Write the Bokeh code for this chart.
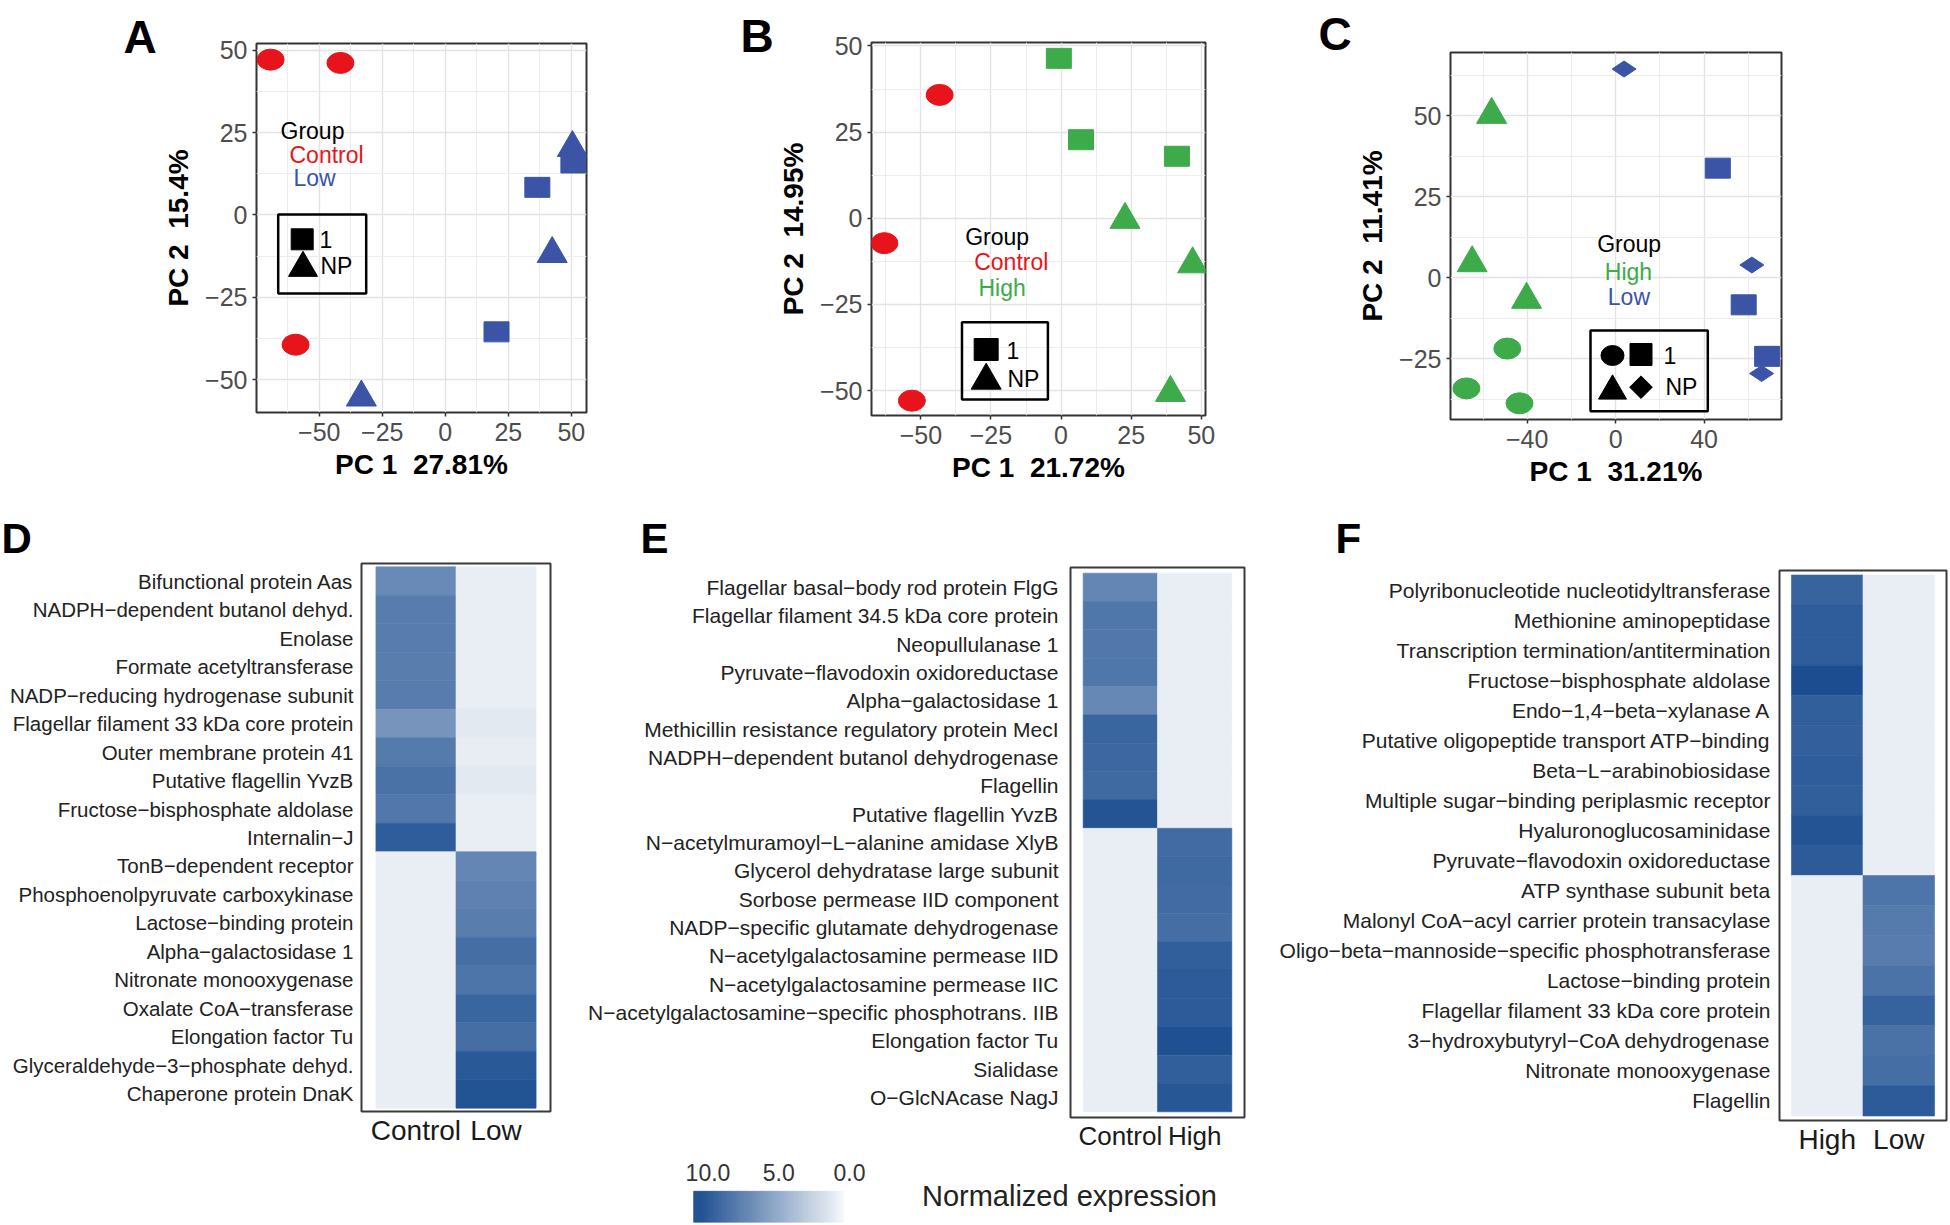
import numpy as np
from bokeh.plotting import figure
from bokeh.layouts import column, row
from bokeh.models import (Range1d, FactorRange, FixedTicker, Label, BoxAnnotation,
                          LinearColorMapper, ColumnDataSource, CustomJSTickFormatter)
from bokeh.transform import transform
from bokeh.embed import file_html
from bokeh.resources import INLINE

FONT = "Liberation Sans"
NB2 = "\u00a0\u00a0"

# ======================= DATA =======================
GROUP_COLORS = {"Control": "#E8141B", "Low": "#3B54A5", "High": "#3DAB4A"}

# Panel A : Control vs Low
A_pc1 = [-69.3, -41.6, -59.4, 36.5, 20.3, 50.8, 50.4, 42.4, -33.3]
A_pc2 = [47.2, 46.2, -39.4, 8.4, -35.5, 15.8, 20.4, -11.8, -55.4]
A_group = ["Control", "Control", "Control", "Low", "Low", "Low", "Low", "Low", "Low"]
A_shape = ["circle", "circle", "circle", "square", "square", "square", "triangle", "triangle", "triangle"]
A_xlabel = "PC 1" + NB2 + "27.81%"
A_ylabel = "PC 2" + NB2 + "15.4%"
A_xticks = [-50, -25, 0, 25, 50]
A_xminor = [-62.5, -37.5, -12.5, 12.5, 37.5]
A_yticks = [-50, -25, 0, 25, 50]
A_yminor = [-37.5, -12.5, 12.5, 37.5]
A_xrange = (-74.9, 56.0)
A_yrange = (-60.0, 52.1)

# Panel B : Control vs High
B_pc1 = [-43.3, -63.0, -53.2, -0.8, 7.1, 41.3, 22.8, 46.9, 39.0]
B_pc2 = [35.8, -7.2, -52.9, 46.4, 22.8, 18.0, -0.4, -13.3, -50.6]
B_group = ["Control", "Control", "Control", "High", "High", "High", "High", "High", "High"]
B_shape = ["circle", "circle", "circle", "square", "square", "square", "triangle", "triangle", "triangle"]
B_xlabel = "PC 1" + NB2 + "21.72%"
B_ylabel = "PC 2" + NB2 + "14.95%"
B_xticks = [-50, -25, 0, 25, 50]
B_xminor = [-62.5, -37.5, -12.5, 12.5, 37.5]
B_yticks = [-50, -25, 0, 25, 50]
B_yminor = [-37.5, -12.5, 12.5, 37.5]
B_xrange = (-67.6, 51.5)
B_yrange = (-57.2, 51.0)

# Panel C : High vs Low
C_pc1 = [-49.0, -67.5, -43.5, -56.1, -64.9, -40.3, 46.2, 57.9, 68.5, 3.8, 61.6, 66.0]
C_pc2 = [-21.9, -34.2, -38.8, 50.3, 4.5, -6.8, 33.8, -8.4, -24.3, 64.4, 3.9, -29.6]
C_group = ["High"] * 6 + ["Low"] * 6
C_shape = ["circle"] * 3 + ["triangle"] * 3 + ["square"] * 3 + ["diamond"] * 3
C_xlabel = "PC 1" + NB2 + "31.21%"
C_ylabel = "PC 2" + NB2 + "11.41%"
C_xticks = [-40, 0, 40]
C_xminor = [-60, -20, 20, 60]
C_yticks = [-25, 0, 25, 50]
C_yminor = [-37.5, -12.5, 12.5, 37.5, 62.5]
C_xrange = (-74.7, 75.0)
C_yrange = (-43.8, 69.5)

# Heatmap D : Control vs Low
D_genes = ["Bifunctional protein Aas", "NADPH\u2212dependent butanol dehyd.", "Enolase",
           "Formate acetyltransferase", "NADP\u2212reducing hydrogenase subunit",
           "Flagellar filament 33 kDa core protein", "Outer membrane protein 41",
           "Putative flagellin YvzB", "Fructose\u2212bisphosphate aldolase", "Internalin\u2212J",
           "TonB\u2212dependent receptor", "Phosphoenolpyruvate carboxykinase",
           "Lactose\u2212binding protein", "Alpha\u2212galactosidase 1", "Nitronate monooxygenase",
           "Oxalate CoA\u2212transferase", "Elongation factor Tu",
           "Glyceraldehyde\u22123\u2212phosphate dehyd.", "Chaperone protein DnaK"]
D_cols = ["Control", "Low"]
D_control = [6.8, 7.6, 7.6, 7.5, 7.6, 6.2, 7.7, 8.2, 7.8, 9.4,
             1.0, 1.0, 1.0, 1.0, 1.0, 1.0, 1.0, 1.0, 1.0]
D_low = [1.0, 1.0, 1.0, 1.0, 1.0, 1.3, 1.1, 1.3, 1.0, 1.0,
         7.0, 7.3, 7.5, 8.4, 8.0, 8.9, 8.4, 9.6, 10.0]

# Heatmap E : Control vs High
E_genes = ["Flagellar basal\u2212body rod protein FlgG", "Flagellar filament 34.5 kDa core protein",
           "Neopullulanase 1", "Pyruvate\u2212flavodoxin oxidoreductase", "Alpha\u2212galactosidase 1",
           "Methicillin resistance regulatory protein MecI",
           "NADPH\u2212dependent butanol dehydrogenase", "Flagellin", "Putative flagellin YvzB",
           "N\u2212acetylmuramoyl\u2212L\u2212alanine amidase XlyB",
           "Glycerol dehydratase large subunit", "Sorbose permease IID component",
           "NADP\u2212specific glutamate dehydrogenase", "N\u2212acetylgalactosamine permease IID",
           "N\u2212acetylgalactosamine permease IIC",
           "N\u2212acetylgalactosamine\u2212specific phosphotrans. IIB",
           "Elongation factor Tu", "Sialidase", "O\u2212GlcNAcase NagJ"]
E_cols = ["Control", "High"]
E_control = [7.0, 7.9, 7.8, 7.9, 6.9, 8.9, 8.8, 8.7, 9.9,
             1.0, 1.0, 1.0, 1.0, 1.0, 1.0, 1.0, 1.0, 1.0, 1.0]
E_high = [1.0, 1.0, 1.0, 1.0, 1.0, 1.0, 1.0, 1.0, 1.0,
          8.6, 8.7, 8.6, 8.4, 9.3, 9.5, 9.5, 10.1, 9.3, 9.7]

# Heatmap F : High vs Low
F_genes = ["Polyribonucleotide nucleotidyltransferase", "Methionine aminopeptidase",
           "Transcription termination/antitermination", "Fructose\u2212bisphosphate aldolase",
           "Endo\u22121,4\u2212beta\u2212xylanase A", "Putative oligopeptide transport ATP\u2212binding",
           "Beta\u2212L\u2212arabinobiosidase", "Multiple sugar\u2212binding periplasmic receptor",
           "Hyaluronoglucosaminidase", "Pyruvate\u2212flavodoxin oxidoreductase",
           "ATP synthase subunit beta", "Malonyl CoA\u2212acyl carrier protein transacylase",
           "Oligo\u2212beta\u2212mannoside\u2212specific phosphotransferase", "Lactose\u2212binding protein",
           "Flagellar filament 33 kDa core protein", "3\u2212hydroxybutyryl\u2212CoA dehydrogenase",
           "Nitronate monooxygenase", "Flagellin"]
F_cols = ["High", "Low"]
F_high = [9.0, 9.4, 9.4, 10.3, 9.3, 9.2, 9.4, 9.3, 9.9, 9.5,
          1.0, 1.0, 1.0, 1.0, 1.0, 1.0, 1.0, 1.0]
F_low = [1.0, 1.0, 1.0, 1.0, 1.0, 1.0, 1.0, 1.0, 1.0, 1.0,
         8.0, 7.7, 7.6, 8.1, 9.1, 8.2, 8.4, 9.5]

# Colour scale legend
CB_TICKS = [10, 5, 0]
CB_TICK_LABELS = ["10.0", "5.0", "0.0"]
CB_MIN, CB_MAX = 0.42, 11.02
CB_TITLE = "Normalized expression"
EXPR_LOW, EXPR_HIGH = 0.0, 10.5

MID = 0.35  # baseline -> vertical middle of the text box, as a fraction of font size
LEG = 23    # legend text size (px)


# ======================= STYLE HELPERS =======================
def lerp_palette(c0, c1, n=256):
    a = np.array([int(c0[i:i + 2], 16) for i in (1, 3, 5)], dtype=float)
    b = np.array([int(c1[i:i + 2], 16) for i in (1, 3, 5)], dtype=float)
    out = []
    for t in np.linspace(0, 1, n):
        c = np.round(a + (b - a) * t).astype(int)
        out.append("#%02x%02x%02x" % tuple(c))
    return out


MAPPER = LinearColorMapper(palette=lerp_palette("#FFFFFF", "#174A8E"), low=EXPR_LOW, high=EXPR_HIGH)


def to_data(fr, xr, yr, X, Y):
    fl, ft, frr, fb = fr
    x = xr[0] + (X - fl) / (frr - fl) * (xr[1] - xr[0])
    y = yr[1] - (Y - ft) / (fb - ft) * (yr[1] - yr[0])
    return x, y


def add_label(p, fr, text, X, Yb, size, color="black", style="normal", align="left"):
    fl, ft, frr, fb = fr
    Ym = Yb - MID * size
    p.add_layout(Label(x=X - fl, y=fb - Ym, x_units="screen", y_units="screen", text=text,
                       text_font=FONT, text_font_size=f"{size}px", text_color=color,
                       text_font_style=style, text_align=align, text_baseline="middle"))


def base_fig(box, fr, xr, yr):
    x0, y0, w, h = box
    fl, ft, frr, fb = fr
    p = figure(width=w, height=h, x_range=xr, y_range=yr, output_backend="svg",
               toolbar_location=None, title=None,
               min_border_left=fl - x0, min_border_right=x0 + w - frr,
               min_border_top=ft - y0, min_border_bottom=y0 + h - fb)
    p.background_fill_color = "white"
    p.border_fill_color = "white"
    return p


def letter_fig(box, letters, size):
    x0, y0, w, h = box
    p = figure(width=w, height=h, x_range=Range1d(0, w), y_range=Range1d(0, h),
               x_axis_location=None, y_axis_location=None, min_border=0, title=None,
               output_backend="svg", toolbar_location=None)
    p.outline_line_color = None
    p.background_fill_color = "white"
    p.border_fill_color = "white"
    p.grid.visible = False
    for text, X, Yb in letters:
        Ym = Yb - MID * size
        p.add_layout(Label(x=X - x0, y=y0 + h - Ym, text=text, text_font=FONT,
                           text_font_size=f"{size}px", text_font_style="bold",
                           text_color="black", text_align="left", text_baseline="middle"))
    return p


def pca_figure(box, fr, xr, yr, xt, xm, yt, ym, xlabel, ylabel):
    p = base_fig(box, fr, Range1d(*xr), Range1d(*yr))
    p.outline_line_color = "#333333"
    p.outline_line_width = 2
    p.xaxis.ticker = FixedTicker(ticks=xt, minor_ticks=xm)
    p.yaxis.ticker = FixedTicker(ticks=yt, minor_ticks=ym)
    for ax in (p.xaxis[0], p.yaxis[0]):
        ax.formatter = CustomJSTickFormatter(
            code="return (tick < 0 ? '\u2212' : '') + Math.abs(tick);")
        ax.axis_line_color = None
        ax.major_tick_out = 4
        ax.major_tick_in = 0
        ax.major_tick_line_color = "#333333"
        ax.major_tick_line_width = 1.5
        ax.minor_tick_line_color = None
        ax.major_label_text_font = FONT
        ax.major_label_text_font_size = "25px"
        ax.major_label_text_color = "#4D4D4D"
        ax.axis_label_text_font = FONT
        ax.axis_label_text_font_size = "28px"
        ax.axis_label_text_font_style = "bold"
        ax.axis_label_text_color = "black"
    p.xaxis.axis_label = xlabel
    p.yaxis.axis_label = ylabel
    p.xaxis.major_label_standoff = 6
    p.xaxis.axis_label_standoff = 5
    p.yaxis.major_label_standoff = 5
    p.yaxis.axis_label_standoff = 8
    for g in (p.xgrid[0], p.ygrid[0]):
        g.grid_line_color = "#E3E3E3"
        g.grid_line_width = 1.4
        g.minor_grid_line_color = "#EDEDED"
        g.minor_grid_line_width = 1.0
    return p


def draw_points(p, pc1, pc2, group, shape):
    for shp in ["circle", "triangle", "square", "diamond"]:
        idx = [i for i, s in enumerate(shape) if s == shp]
        if not idx:
            continue
        src = ColumnDataSource(dict(x=[pc1[i] for i in idx], y=[pc2[i] for i in idx],
                                    c=[GROUP_COLORS[group[i]] for i in idx]))
        if shp == "circle":
            p.ellipse("x", "y", width=27, height=21, width_units="screen", height_units="screen",
                      fill_color="c", line_color="c", source=src)
        elif shp == "square":
            p.rect("x", "y", width=25, height=20, width_units="screen", height_units="screen",
                   fill_color="c", line_color="c", source=src)
        elif shp == "triangle":
            p.scatter("x", "y", marker="triangle", size=30, fill_color="c", line_color="c",
                      source=src)
        else:
            p.scatter("x", "y", marker="diamond", size=24, angle=np.pi / 2, fill_color="c",
                      line_color="c", source=src)


def legend_key(p, fr, xr, yr, kind, X, Y, w=22, h=21, size=28):
    x, y = to_data(fr, xr, yr, X, Y)
    if kind == "square":
        p.rect([x], [y], width=w, height=h, width_units="screen", height_units="screen",
               color="black")
    elif kind == "circle":
        p.ellipse([x], [y], width=w, height=h, width_units="screen", height_units="screen",
                  color="black")
    elif kind == "triangle":
        p.scatter([x], [y], marker="triangle", size=size, color="black")
    elif kind == "diamond":
        p.scatter([x], [y], marker="square", size=size, angle=np.pi / 4, color="black")


def legend_box(p, fr, xr, yr, X0, Y0, X1, Y1):
    l, t = to_data(fr, xr, yr, X0, Y0)
    r, b = to_data(fr, xr, yr, X1, Y1)
    p.add_layout(BoxAnnotation(left=l, right=r, top=t, bottom=b, fill_color=None, fill_alpha=0,
                               line_color="black", line_alpha=1.0, line_width=2.5))


# ======================= PCA PANELS (row 1: y 0..500) =======================
letA = letter_fig((0, 0, 158, 500), [("A", 123, 53)], 46)
frA = (256, 43, 586, 412)
pA = pca_figure((158, 0, 542, 500), frA, A_xrange, A_yrange, A_xticks, A_xminor, A_yticks,
                A_yminor, A_xlabel, A_ylabel)
draw_points(pA, A_pc1, A_pc2, A_group, A_shape)
add_label(pA, frA, "Group", 280, 139, LEG)
add_label(pA, frA, "Control", 289, 163, LEG, color=GROUP_COLORS["Control"])
add_label(pA, frA, "Low", 293, 186, LEG, color=GROUP_COLORS["Low"])
legend_box(pA, frA, A_xrange, A_yrange, 277.7, 214, 365.7, 293)
legend_key(pA, frA, A_xrange, A_yrange, "square", 301.7, 238.8, 22, 21)
legend_key(pA, frA, A_xrange, A_yrange, "triangle", 302.5, 267.5, size=29)
add_label(pA, frA, "1", 319, 247, LEG)
add_label(pA, frA, "NP", 320, 274, LEG)

letB = letter_fig((700, 0, 75, 500), [("B", 740, 52)], 46)
frB = (868, 42, 1205, 415)
pB = pca_figure((775, 0, 525, 500), frB, B_xrange, B_yrange, B_xticks, B_xminor, B_yticks,
                B_yminor, B_xlabel, B_ylabel)
draw_points(pB, B_pc1, B_pc2, B_group, B_shape)
add_label(pB, frB, "Group", 961.7, 245, LEG)
add_label(pB, frB, "Control", 970.7, 270, LEG, color=GROUP_COLORS["Control"])
add_label(pB, frB, "High", 975, 296, LEG, color=GROUP_COLORS["High"])
legend_box(pB, frB, B_xrange, B_yrange, 959.3, 321.7, 1046, 399)
legend_key(pB, frB, B_xrange, B_yrange, "square", 983.7, 349, 24, 22)
legend_key(pB, frB, B_xrange, B_yrange, "triangle", 983.7, 380, size=30)
add_label(pB, frB, "1", 1003, 358, LEG)
add_label(pB, frB, "NP", 1004, 386.7, LEG)

letC = letter_fig((1300, 0, 52, 500), [("C", 1318, 50)], 46)
frC = (1450, 52, 1781, 419)
pC = pca_figure((1352, 0, 597, 500), frC, C_xrange, C_yrange, C_xticks, C_xminor, C_yticks,
                C_yminor, C_xlabel, C_ylabel)
draw_points(pC, C_pc1, C_pc2, C_group, C_shape)
add_label(pC, frC, "Group", 1596.7, 252, LEG)
add_label(pC, frC, "High", 1604.3, 280, LEG, color=GROUP_COLORS["High"])
add_label(pC, frC, "Low", 1607.3, 305, LEG, color=GROUP_COLORS["Low"])
legend_box(pC, frC, C_xrange, C_yrange, 1590, 330, 1707.3, 410.7)
legend_key(pC, frC, C_xrange, C_yrange, "circle", 1612, 355, 23, 20)
legend_key(pC, frC, C_xrange, C_yrange, "square", 1640.5, 354, 22, 22)
legend_key(pC, frC, C_xrange, C_yrange, "triangle", 1612, 390.5, size=28)
legend_key(pC, frC, C_xrange, C_yrange, "diamond", 1640.5, 386.7, size=16)
add_label(pC, frC, "1", 1663, 362.7, LEG)
add_label(pC, frC, "NP", 1665, 395, LEG)


# ======================= HEATMAPS (row 2: y 500..1160) =======================
def heat_figure(box, fr, genes, cols, values, xpad, ypad, label_size, label_standoff,
                col_label_size=28):
    yr = FactorRange(factors=list(reversed(genes)), range_padding=ypad,
                     range_padding_units="absolute")
    xr = FactorRange(factors=list(cols), range_padding=xpad, range_padding_units="absolute")
    p = base_fig(box, fr, xr, yr)
    p.outline_line_color = "#3A3A3A"
    p.outline_line_width = 2
    xs, ys, vs = [], [], []
    for c, vals in zip(cols, values):
        for g, v in zip(genes, vals):
            xs.append(c)
            ys.append(g)
            vs.append(v)
    src = ColumnDataSource(dict(col=xs, gene=ys, val=vs))
    p.rect(x="col", y="gene", width=1, height=1, source=src,
           fill_color=transform("val", MAPPER), line_color=transform("val", MAPPER),
           line_width=0.6)
    p.xgrid.grid_line_color = None
    p.ygrid.grid_line_color = None
    for ax in (p.xaxis[0], p.yaxis[0]):
        ax.axis_line_color = None
        ax.major_tick_line_color = None
        ax.minor_tick_line_color = None
        ax.major_tick_out = 0
        ax.major_tick_in = 0
        ax.major_label_text_font = FONT
    p.yaxis.major_label_text_font_size = f"{label_size}px"
    p.yaxis.major_label_text_color = "#222222"
    p.yaxis.major_label_standoff = label_standoff
    p.xaxis.major_label_text_font_size = f"{col_label_size}px"
    p.xaxis.major_label_text_color = "#1A1A1A"
    p.xaxis.major_label_standoff = 3
    return p


strip = letter_fig((0, 500, 1949, 62), [("D", 1, 553), ("E", 640, 553), ("F", 1335, 553)], 42)

frD = (361, 563, 550, 1111)
pD = heat_figure((0, 562, 575, 598), frD, D_genes, D_cols, [D_control, D_low], 0.18, 0.115, 20.5, 8)
frE = (1070, 567, 1244, 1117)
pE = heat_figure((575, 562, 687, 598), frE, E_genes, E_cols, [E_control, E_high], 0.17, 0.2, 21, 12,
                 col_label_size=26)
frF = (1779, 570, 1946, 1120)
pF = heat_figure((1262, 562, 687, 598), frF, F_genes, F_cols, [F_high, F_low], 0.167, 0.15, 21, 9)

# ======================= COLOUR SCALE (row 3: y 1160..1224) =======================
CB_Y0, CB_H = 1160, 64
cb = figure(width=1949, height=CB_H, x_range=Range1d(60.0, -77.74), y_range=Range1d(0, CB_H),
            x_axis_location=None, y_axis_location=None, min_border=0, title=None,
            output_backend="svg", toolbar_location=None)
cb.outline_line_color = None
cb.background_fill_color = "white"
cb.border_fill_color = "white"
cb.grid.visible = False
edges = np.linspace(CB_MIN, CB_MAX, 151)
cb_src = ColumnDataSource(dict(l=edges[:-1], r=edges[1:], mid=(edges[:-1] + edges[1:]) / 2))
cb.quad(left="l", right="r", bottom=2.3, top=33.3, source=cb_src,
        fill_color=transform("mid", MAPPER), line_color=transform("mid", MAPPER), line_width=0.5)
for v, t in zip(CB_TICKS, CB_TICK_LABELS):
    cb.add_layout(Label(x=v, y=CB_Y0 + CB_H - (1180 - MID * 23), text=t, text_font=FONT,
                        text_font_size="23px", text_color="#333333", text_align="center",
                        text_baseline="middle"))
cb.add_layout(Label(x=-5.12, y=CB_Y0 + CB_H - (1206 - MID * 29), text=CB_TITLE, text_font=FONT,
                    text_font_size="29px", text_color="#222222", text_align="left",
                    text_baseline="middle"))

layout = column(
    row(column(letA), column(pA), column(letB), column(pB), column(letC), column(pC)),
    strip,
    row(column(pD), column(pE), column(pF)),
    cb,
)

with open("out.html", "w", encoding="utf-8") as f:
    f.write(file_html(layout, INLINE, "Figure"))
